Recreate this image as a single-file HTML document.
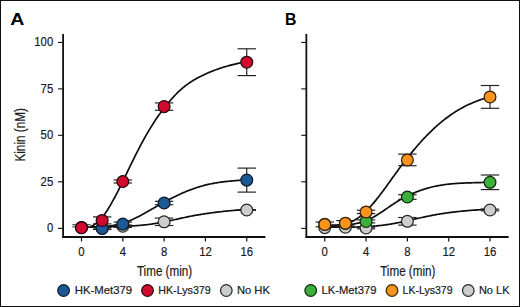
<!DOCTYPE html>
<html><head><meta charset="utf-8"><style>
html,body{margin:0;padding:0;background:#fff;}
svg{display:block;}
text{font-family:"Liberation Sans",sans-serif;fill:#1a1a1a;stroke:#1a1a1a;stroke-width:0.2px;}
.tk{font-size:12.6px;}
.ttl{font-size:14.2px;}
.lg{font-size:11.3px;}
.pl{font-size:17px;font-weight:bold;fill:#000;stroke:none;}
</style></head><body>
<svg width="520" height="307" viewBox="0 0 520 307">
<rect x="0" y="0" width="520" height="307" fill="#fff"/>
<rect x="0.5" y="0.5" width="519" height="306" fill="none" stroke="#111" stroke-width="1"/>
<text transform="translate(10.3,25.1) scale(1.15,1)" class="pl">A</text>
<text transform="translate(285.0,25.2) scale(0.93,1)" class="pl">B</text>
<text transform="translate(25.1,161.6) rotate(-90)" class="ttl" textLength="53.6" lengthAdjust="spacingAndGlyphs">Kinin (nM)</text>
<line x1="63.1" y1="33.9" x2="63.1" y2="237.9" stroke="#111" stroke-width="1.8"/>
<line x1="62.2" y1="237.0" x2="265.4" y2="237.0" stroke="#111" stroke-width="1.8"/>
<line x1="58.0" y1="228.40" x2="63.1" y2="228.40" stroke="#111" stroke-width="1.1"/>
<text transform="translate(53.2,232.35) scale(0.9,1)" text-anchor="end" class="tk">0</text>
<line x1="58.0" y1="181.80" x2="63.1" y2="181.80" stroke="#111" stroke-width="1.1"/>
<text transform="translate(53.2,185.75) scale(0.9,1)" text-anchor="end" class="tk">25</text>
<line x1="58.0" y1="135.30" x2="63.1" y2="135.30" stroke="#111" stroke-width="1.1"/>
<text transform="translate(53.2,139.25) scale(0.9,1)" text-anchor="end" class="tk">50</text>
<line x1="58.0" y1="88.90" x2="63.1" y2="88.90" stroke="#111" stroke-width="1.1"/>
<text transform="translate(53.2,92.85) scale(0.9,1)" text-anchor="end" class="tk">75</text>
<line x1="58.0" y1="42.45" x2="63.1" y2="42.45" stroke="#111" stroke-width="1.1"/>
<text transform="translate(53.2,46.40) scale(0.9,1)" text-anchor="end" class="tk">100</text>
<line x1="81.50" y1="237" x2="81.50" y2="241.5" stroke="#111" stroke-width="1.2"/>
<text transform="translate(81.50,256.4) scale(0.9,1)" text-anchor="middle" class="tk">0</text>
<line x1="122.81" y1="237" x2="122.81" y2="241.5" stroke="#111" stroke-width="1.2"/>
<text transform="translate(122.81,256.4) scale(0.9,1)" text-anchor="middle" class="tk">4</text>
<line x1="164.12" y1="237" x2="164.12" y2="241.5" stroke="#111" stroke-width="1.2"/>
<text transform="translate(164.12,256.4) scale(0.9,1)" text-anchor="middle" class="tk">8</text>
<line x1="205.44" y1="237" x2="205.44" y2="241.5" stroke="#111" stroke-width="1.2"/>
<text transform="translate(205.44,256.4) scale(0.9,1)" text-anchor="middle" class="tk">12</text>
<line x1="246.75" y1="237" x2="246.75" y2="241.5" stroke="#111" stroke-width="1.2"/>
<text transform="translate(246.75,256.4) scale(0.9,1)" text-anchor="middle" class="tk">16</text>
<text x="136.9" y="276.2" class="ttl" textLength="55.3" lengthAdjust="spacingAndGlyphs">Time (min)</text>
<line x1="306.35" y1="33.9" x2="306.35" y2="237.9" stroke="#111" stroke-width="1.8"/>
<line x1="305.45000000000005" y1="237.0" x2="508.65" y2="237.0" stroke="#111" stroke-width="1.8"/>
<line x1="301.25" y1="228.40" x2="306.35" y2="228.40" stroke="#111" stroke-width="1.1"/>
<line x1="301.25" y1="181.80" x2="306.35" y2="181.80" stroke="#111" stroke-width="1.1"/>
<line x1="301.25" y1="135.30" x2="306.35" y2="135.30" stroke="#111" stroke-width="1.1"/>
<line x1="301.25" y1="88.90" x2="306.35" y2="88.90" stroke="#111" stroke-width="1.1"/>
<line x1="301.25" y1="42.45" x2="306.35" y2="42.45" stroke="#111" stroke-width="1.1"/>
<line x1="324.75" y1="237" x2="324.75" y2="241.5" stroke="#111" stroke-width="1.2"/>
<text transform="translate(324.75,256.4) scale(0.9,1)" text-anchor="middle" class="tk">0</text>
<line x1="366.06" y1="237" x2="366.06" y2="241.5" stroke="#111" stroke-width="1.2"/>
<text transform="translate(366.06,256.4) scale(0.9,1)" text-anchor="middle" class="tk">4</text>
<line x1="407.37" y1="237" x2="407.37" y2="241.5" stroke="#111" stroke-width="1.2"/>
<text transform="translate(407.37,256.4) scale(0.9,1)" text-anchor="middle" class="tk">8</text>
<line x1="448.69" y1="237" x2="448.69" y2="241.5" stroke="#111" stroke-width="1.2"/>
<text transform="translate(448.69,256.4) scale(0.9,1)" text-anchor="middle" class="tk">12</text>
<line x1="490.00" y1="237" x2="490.00" y2="241.5" stroke="#111" stroke-width="1.2"/>
<text transform="translate(490.00,256.4) scale(0.9,1)" text-anchor="middle" class="tk">16</text>
<text x="380.15" y="276.2" class="ttl" textLength="55.3" lengthAdjust="spacingAndGlyphs">Time (min)</text>
<polyline points="81.40,226.80 82.43,226.80 83.46,226.80 84.49,226.80 85.52,226.80 86.56,226.80 87.59,226.80 88.62,226.80 89.65,226.80 90.68,226.80 91.71,226.79 92.74,226.79 93.77,226.79 94.80,226.79 95.83,226.78 96.87,226.78 97.90,226.77 98.93,226.77 99.96,226.76 100.99,226.75 102.02,226.74 103.05,226.73 104.08,226.72 105.11,226.70 106.14,226.69 107.18,226.67 108.21,226.65 109.24,226.63 110.27,226.61 111.30,226.58 112.33,226.55 113.36,226.52 114.39,226.49 115.42,226.46 116.45,226.42 117.49,226.41 118.52,226.38 119.55,226.36 120.58,226.34 121.61,226.31 122.64,226.28 123.67,226.25 124.70,226.22 125.73,226.18 126.76,226.15 127.80,226.10 128.83,226.06 129.86,226.01 130.89,225.96 131.92,225.91 132.95,225.85 133.98,225.79 135.01,225.73 136.04,225.66 137.07,225.59 138.11,225.51 139.14,225.43 140.17,225.34 141.20,225.25 142.23,225.16 143.26,225.06 144.29,224.95 145.32,224.84 146.35,224.73 147.38,224.61 148.42,224.48 149.45,224.35 150.48,224.22 151.51,224.07 152.54,223.93 153.57,223.77 154.60,223.61 155.63,223.45 156.66,223.28 157.69,223.11 158.73,222.93 159.76,222.74 160.79,222.55 161.82,222.36 162.85,222.16 163.88,221.95 164.91,221.75 165.94,221.54 166.97,221.32 168.00,221.10 169.04,220.88 170.07,220.66 171.10,220.44 172.13,220.21 173.16,219.99 174.19,219.76 175.22,219.53 176.25,219.30 177.28,219.07 178.31,218.85 179.35,218.62 180.38,218.39 181.41,218.17 182.44,217.95 183.47,217.73 184.50,217.51 185.53,217.29 186.56,217.08 187.59,216.86 188.62,216.65 189.66,216.45 190.69,216.25 191.72,216.04 192.75,215.85 193.78,215.65 194.81,215.46 195.84,215.28 196.87,215.09 197.90,214.91 198.93,214.74 199.97,214.56 201.00,214.39 202.03,214.22 203.06,214.06 204.09,213.90 205.12,213.74 206.15,213.59 207.18,213.44 208.21,213.29 209.24,213.15 210.28,213.00 211.31,212.86 212.34,212.73 213.37,212.59 214.40,212.46 215.43,212.33 216.46,212.20 217.49,212.08 218.52,211.96 219.55,211.84 220.59,211.72 221.62,211.61 222.65,211.49 223.68,211.38 224.71,211.27 225.74,211.17 226.77,211.06 227.80,210.96 228.83,210.86 229.86,210.76 230.90,210.67 231.93,210.57 232.96,210.48 233.99,210.39 235.02,210.31 236.05,210.22 237.08,210.14 238.11,210.06 239.14,209.98 240.17,209.90 241.21,209.83 242.24,209.76 243.27,209.68 244.30,209.62 245.33,209.55 246.36,209.48" fill="none" stroke="#0d0d0d" stroke-width="1.7" stroke-linejoin="round"/>
<polyline points="81.40,227.12 82.43,227.12 83.46,227.12 84.49,227.12 85.52,227.12 86.56,227.12 87.59,227.12 88.62,227.11 89.65,227.11 90.68,227.10 91.71,227.09 92.74,227.08 93.77,227.07 94.80,227.05 95.83,227.03 96.87,227.00 97.90,226.97 98.93,226.94 99.96,226.89 100.99,226.85 102.02,226.79 103.05,226.73 104.08,226.65 105.11,226.57 106.14,226.48 107.18,226.38 108.21,226.26 109.24,226.14 110.27,226.00 111.30,225.85 112.33,225.68 113.36,225.50 114.39,225.31 115.42,225.10 116.45,224.87 117.49,224.64 118.52,224.39 119.55,224.13 120.58,223.85 121.61,223.56 122.64,223.25 123.67,222.92 124.70,222.58 125.73,222.22 126.76,221.85 127.80,221.46 128.83,221.05 129.86,220.63 130.89,220.20 131.92,219.75 132.95,219.28 133.98,218.81 135.01,218.32 136.04,217.81 137.07,217.30 138.11,216.77 139.14,216.24 140.17,215.70 141.20,215.14 142.23,214.58 143.26,214.01 144.29,213.44 145.32,212.86 146.35,212.28 147.38,211.69 148.42,211.10 149.45,210.51 150.48,209.92 151.51,209.33 152.54,208.73 153.57,208.14 154.60,207.55 155.63,206.96 156.66,206.37 157.69,205.78 158.73,205.20 159.76,204.62 160.79,204.04 161.82,203.47 162.85,202.90 163.88,202.33 164.91,201.77 165.94,201.21 166.97,200.66 168.00,200.11 169.04,199.56 170.07,199.03 171.10,198.49 172.13,197.97 173.16,197.45 174.19,196.93 175.22,196.42 176.25,195.92 177.28,195.43 178.31,194.94 179.35,194.46 180.38,193.99 181.41,193.53 182.44,193.07 183.47,192.63 184.50,192.19 185.53,191.75 186.56,191.33 187.59,190.91 188.62,190.51 189.66,190.11 190.69,189.72 191.72,189.34 192.75,188.96 193.78,188.60 194.81,188.24 195.84,187.89 196.87,187.56 197.90,187.23 198.93,186.90 199.97,186.59 201.00,186.29 202.03,185.99 203.06,185.71 204.09,185.43 205.12,185.17 206.15,184.91 207.18,184.66 208.21,184.42 209.24,184.19 210.28,183.97 211.31,183.75 212.34,183.55 213.37,183.35 214.40,183.17 215.43,182.99 216.46,182.82 217.49,182.65 218.52,182.50 219.55,182.35 220.59,182.20 221.62,182.07 222.65,181.93 223.68,181.81 224.71,181.69 225.74,181.57 226.77,181.45 227.80,181.35 228.83,181.24 229.86,181.14 230.90,181.04 231.93,180.94 232.96,180.85 233.99,180.75 235.02,180.66 236.05,180.58 237.08,180.49 238.11,180.41 239.14,180.33 240.17,180.25 241.21,180.17 242.24,180.09 243.27,180.01 244.30,179.94 245.33,179.87 246.36,179.79" fill="none" stroke="#0d0d0d" stroke-width="1.7" stroke-linejoin="round"/>
<polyline points="81.40,227.93 82.43,227.92 83.46,227.90 84.49,227.83 85.52,227.74 86.56,227.59 87.59,227.40 88.62,227.15 89.65,226.84 90.68,226.47 91.71,226.03 92.74,225.52 93.77,224.94 94.80,224.29 95.83,223.56 96.87,222.76 97.90,221.87 98.93,220.91 99.96,219.87 100.99,218.75 102.02,217.55 103.05,216.28 104.08,214.93 105.11,213.50 106.14,212.00 107.18,210.44 108.21,208.81 109.24,207.11 110.27,205.36 111.30,203.55 112.33,201.70 113.36,199.86 114.39,197.97 115.42,196.04 116.45,194.08 117.49,192.08 118.52,190.05 119.55,187.99 120.58,185.91 121.61,183.81 122.64,181.69 123.67,179.56 124.70,177.42 125.73,175.28 126.76,173.13 127.80,170.99 128.83,168.84 129.86,166.71 130.89,164.58 131.92,162.46 132.95,160.35 133.98,158.26 135.01,156.18 136.04,154.13 137.07,152.09 138.11,150.08 139.14,148.09 140.17,146.12 141.20,144.18 142.23,142.26 143.26,140.37 144.29,138.50 145.32,136.67 146.35,134.86 147.38,133.08 148.42,131.32 149.45,129.60 150.48,127.90 151.51,126.23 152.54,124.59 153.57,122.98 154.60,121.39 155.63,119.84 156.66,118.30 157.69,116.80 158.73,115.32 159.76,113.87 160.79,112.44 161.82,111.04 162.85,109.66 163.88,108.31 164.91,106.98 165.94,105.67 166.97,104.39 168.00,103.14 169.04,101.90 170.07,100.69 171.10,99.51 172.13,98.35 173.16,97.22 174.19,96.11 175.22,95.03 176.25,93.97 177.28,92.94 178.31,91.94 179.35,90.97 180.38,90.02 181.41,89.10 182.44,88.21 183.47,87.34 184.50,86.50 185.53,85.69 186.56,84.91 187.59,84.15 188.62,83.42 189.66,82.71 190.69,82.02 191.72,81.36 192.75,80.71 193.78,80.09 194.81,79.49 195.84,78.90 196.87,78.33 197.90,77.77 198.93,77.23 199.97,76.70 201.00,76.18 202.03,75.67 203.06,75.18 204.09,74.69 205.12,74.21 206.15,73.74 207.18,73.28 208.21,72.83 209.24,72.39 210.28,71.96 211.31,71.53 212.34,71.12 213.37,70.72 214.40,70.32 215.43,69.93 216.46,69.56 217.49,69.19 218.52,68.83 219.55,68.48 220.59,68.14 221.62,67.80 222.65,67.48 223.68,67.16 224.71,66.85 225.74,66.55 226.77,66.26 227.80,65.97 228.83,65.69 229.86,65.42 230.90,65.15 231.93,64.89 232.96,64.63 233.99,64.38 235.02,64.14 236.05,63.90 237.08,63.66 238.11,63.43 239.14,63.20 240.17,62.98 241.21,62.76 242.24,62.54 243.27,62.33 244.30,62.12 245.33,61.92 246.36,61.72" fill="none" stroke="#0d0d0d" stroke-width="1.7" stroke-linejoin="round"/>
<g stroke="#4a4a4a" stroke-width="1.2"><line x1="72.30" y1="224.7" x2="90.70" y2="224.7"/><line x1="72.30" y1="226.9" x2="90.70" y2="226.9"/></g>
<circle cx="81.50" cy="227.70" r="5.9" fill="#cdcdcd" stroke="#2a2a2a" stroke-width="1.25"/>
<g stroke="#1e1e1e" stroke-width="1.15"><line x1="102.16" y1="227.50" x2="102.16" y2="229.10"/><line x1="92.96" y1="227.50" x2="111.36" y2="227.50"/><line x1="92.96" y1="229.10" x2="111.36" y2="229.10"/></g>
<circle cx="102.16" cy="228.30" r="5.9" fill="#cdcdcd" stroke="#2a2a2a" stroke-width="1.25"/>
<g stroke="#1e1e1e" stroke-width="1.15"><line x1="122.81" y1="225.00" x2="122.81" y2="227.40"/><line x1="113.61" y1="225.00" x2="132.01" y2="225.00"/><line x1="113.61" y1="227.40" x2="132.01" y2="227.40"/></g>
<circle cx="122.81" cy="226.20" r="5.9" fill="#cdcdcd" stroke="#2a2a2a" stroke-width="1.25"/>
<g stroke="#1e1e1e" stroke-width="1.15"><line x1="164.12" y1="218.10" x2="164.12" y2="225.50"/><line x1="154.92" y1="218.10" x2="173.32" y2="218.10"/><line x1="154.92" y1="225.50" x2="173.32" y2="225.50"/></g>
<circle cx="164.12" cy="221.80" r="5.9" fill="#cdcdcd" stroke="#2a2a2a" stroke-width="1.25"/>
<g stroke="#1e1e1e" stroke-width="1.15"><line x1="246.75" y1="209.65" x2="246.75" y2="210.35"/><line x1="237.55" y1="209.65" x2="255.95" y2="209.65"/><line x1="237.55" y1="210.35" x2="255.95" y2="210.35"/></g>
<circle cx="246.75" cy="210.00" r="5.9" fill="#cdcdcd" stroke="#2a2a2a" stroke-width="1.25"/>
<circle cx="81.50" cy="227.50" r="5.9" fill="#1b5995" stroke="#0a1a2c" stroke-width="1.25"/>
<g stroke="#1e1e1e" stroke-width="1.15"><line x1="102.16" y1="227.40" x2="102.16" y2="229.40"/><line x1="92.96" y1="227.40" x2="111.36" y2="227.40"/><line x1="92.96" y1="229.40" x2="111.36" y2="229.40"/></g>
<circle cx="102.16" cy="228.40" r="5.9" fill="#1b5995" stroke="#0a1a2c" stroke-width="1.25"/>
<g stroke="#1e1e1e" stroke-width="1.15"><line x1="122.81" y1="222.10" x2="122.81" y2="226.10"/><line x1="113.61" y1="222.10" x2="132.01" y2="222.10"/><line x1="113.61" y1="226.10" x2="132.01" y2="226.10"/></g>
<circle cx="122.81" cy="224.10" r="5.9" fill="#1b5995" stroke="#0a1a2c" stroke-width="1.25"/>
<g stroke="#1e1e1e" stroke-width="1.15"><line x1="164.12" y1="201.30" x2="164.12" y2="204.70"/><line x1="154.92" y1="201.30" x2="173.32" y2="201.30"/><line x1="154.92" y1="204.70" x2="173.32" y2="204.70"/></g>
<circle cx="164.12" cy="203.00" r="5.9" fill="#1b5995" stroke="#0a1a2c" stroke-width="1.25"/>
<g stroke="#1e1e1e" stroke-width="1.15"><line x1="246.75" y1="168.10" x2="246.75" y2="192.10"/><line x1="237.55" y1="168.10" x2="255.95" y2="168.10"/><line x1="237.55" y1="192.10" x2="255.95" y2="192.10"/></g>
<circle cx="246.75" cy="180.10" r="5.9" fill="#1b5995" stroke="#0a1a2c" stroke-width="1.25"/>
<circle cx="81.50" cy="227.70" r="5.9" fill="#d20a2e" stroke="#2a0810" stroke-width="1.25"/>
<g stroke="#1e1e1e" stroke-width="1.15"><line x1="102.16" y1="216.90" x2="102.16" y2="223.90"/><line x1="92.96" y1="216.90" x2="111.36" y2="216.90"/><line x1="92.96" y1="223.90" x2="111.36" y2="223.90"/></g>
<circle cx="102.16" cy="220.40" r="5.9" fill="#d20a2e" stroke="#2a0810" stroke-width="1.25"/>
<g stroke="#1e1e1e" stroke-width="1.15"><line x1="122.81" y1="180.00" x2="122.81" y2="183.00"/><line x1="113.61" y1="180.00" x2="132.01" y2="180.00"/><line x1="113.61" y1="183.00" x2="132.01" y2="183.00"/></g>
<circle cx="122.81" cy="181.50" r="5.9" fill="#d20a2e" stroke="#2a0810" stroke-width="1.25"/>
<g stroke="#1e1e1e" stroke-width="1.15"><line x1="164.12" y1="102.90" x2="164.12" y2="110.30"/><line x1="154.92" y1="102.90" x2="173.32" y2="102.90"/><line x1="154.92" y1="110.30" x2="173.32" y2="110.30"/></g>
<circle cx="164.12" cy="106.60" r="5.9" fill="#d20a2e" stroke="#2a0810" stroke-width="1.25"/>
<g stroke="#1e1e1e" stroke-width="1.15"><line x1="246.75" y1="48.80" x2="246.75" y2="75.60"/><line x1="237.55" y1="48.80" x2="255.95" y2="48.80"/><line x1="237.55" y1="75.60" x2="255.95" y2="75.60"/></g>
<circle cx="246.75" cy="62.20" r="5.9" fill="#d20a2e" stroke="#2a0810" stroke-width="1.25"/>
<polyline points="324.80,227.14 325.83,227.14 326.86,227.14 327.89,227.14 328.92,227.14 329.95,227.14 330.99,227.14 332.02,227.14 333.05,227.14 334.08,227.14 335.11,227.14 336.14,227.14 337.17,227.14 338.20,227.14 339.23,227.14 340.26,227.14 341.30,227.14 342.33,227.13 343.36,227.13 344.39,227.13 345.42,227.12 346.45,227.12 347.48,227.11 348.51,227.10 349.54,227.10 350.57,227.09 351.61,227.07 352.64,227.06 353.67,227.05 354.70,227.03 355.73,227.01 356.76,226.99 357.79,226.96 358.82,226.94 359.85,226.91 360.88,226.87 361.92,226.84 362.95,226.80 363.98,226.75 365.01,226.71 366.04,226.66 367.07,226.60 368.10,226.54 369.13,226.48 370.16,226.42 371.19,226.35 372.23,226.27 373.26,226.19 374.29,226.11 375.32,226.02 376.35,225.93 377.38,225.83 378.41,225.72 379.44,225.61 380.47,225.50 381.50,225.38 382.54,225.25 383.57,225.12 384.60,224.99 385.63,224.84 386.66,224.70 387.69,224.54 388.72,224.39 389.75,224.22 390.78,224.06 391.81,223.88 392.85,223.70 393.88,223.52 394.91,223.33 395.94,223.14 396.97,222.94 398.00,222.74 399.03,222.54 400.06,222.33 401.09,222.12 402.12,221.90 403.16,221.68 404.19,221.46 405.22,221.23 406.25,221.01 407.28,220.78 408.31,220.55 409.34,220.32 410.37,220.08 411.40,219.85 412.44,219.62 413.47,219.38 414.50,219.15 415.53,218.91 416.56,218.68 417.59,218.44 418.62,218.21 419.65,217.98 420.68,217.75 421.71,217.52 422.75,217.30 423.78,217.08 424.81,216.85 425.84,216.64 426.87,216.42 427.90,216.21 428.93,216.00 429.96,215.80 430.99,215.59 432.02,215.40 433.06,215.20 434.09,215.01 435.12,214.82 436.15,214.64 437.18,214.46 438.21,214.28 439.24,214.11 440.27,213.94 441.30,213.77 442.33,213.61 443.37,213.45 444.40,213.30 445.43,213.15 446.46,213.00 447.49,212.85 448.52,212.71 449.55,212.58 450.58,212.44 451.61,212.31 452.64,212.18 453.68,212.06 454.71,211.94 455.74,211.82 456.77,211.70 457.80,211.59 458.83,211.48 459.86,211.37 460.89,211.26 461.92,211.16 462.95,211.06 463.99,210.96 465.02,210.87 466.05,210.78 467.08,210.69 468.11,210.60 469.14,210.51 470.17,210.43 471.20,210.35 472.23,210.27 473.26,210.19 474.30,210.12 475.33,210.04 476.36,209.97 477.39,209.90 478.42,209.84 479.45,209.77 480.48,209.71 481.51,209.64 482.54,209.58 483.57,209.53 484.61,209.47 485.64,209.41 486.67,209.36 487.70,209.31 488.73,209.26 489.76,209.21" fill="none" stroke="#0d0d0d" stroke-width="1.7" stroke-linejoin="round"/>
<polyline points="324.80,225.00 325.83,225.00 326.86,225.00 327.89,225.00 328.92,225.00 329.95,225.00 330.99,225.00 332.02,225.00 333.05,225.00 334.08,225.00 335.11,224.99 336.14,224.99 337.17,224.98 338.20,224.97 339.23,224.95 340.26,224.94 341.30,224.91 342.33,224.89 343.36,224.85 344.39,224.81 345.42,224.77 346.45,224.71 347.48,224.65 348.51,224.57 349.54,224.48 350.57,224.38 351.61,224.27 352.64,224.14 353.67,224.00 354.70,223.84 355.73,223.66 356.76,223.47 357.79,223.25 358.82,223.01 359.85,222.75 360.88,222.46 361.92,222.16 362.95,221.83 363.98,221.47 365.01,221.10 366.04,220.70 367.07,220.27 368.10,219.82 369.13,219.35 370.16,218.86 371.19,218.34 372.23,217.80 373.26,217.24 374.29,216.66 375.32,216.06 376.35,215.44 377.38,214.80 378.41,214.15 379.44,213.49 380.47,212.81 381.50,212.12 382.54,211.43 383.57,210.72 384.60,210.02 385.63,209.31 386.66,208.59 387.69,207.88 388.72,207.17 389.75,206.46 390.78,205.76 391.81,205.06 392.85,204.37 393.88,203.69 394.91,203.02 395.94,202.36 396.97,201.72 398.00,201.08 399.03,200.46 400.06,199.85 401.09,199.25 402.12,198.67 403.16,198.10 404.19,197.55 405.22,197.01 406.25,196.48 407.28,195.97 408.31,195.47 409.34,194.98 410.37,194.50 411.40,194.04 412.44,193.58 413.47,193.14 414.50,192.71 415.53,192.29 416.56,191.89 417.59,191.49 418.62,191.10 419.65,190.72 420.68,190.36 421.71,190.00 422.75,189.66 423.78,189.32 424.81,189.00 425.84,188.68 426.87,188.38 427.90,188.08 428.93,187.80 429.96,187.52 430.99,187.26 432.02,187.00 433.06,186.75 434.09,186.52 435.12,186.29 436.15,186.08 437.18,185.87 438.21,185.67 439.24,185.48 440.27,185.30 441.30,185.13 442.33,184.97 443.37,184.81 444.40,184.67 445.43,184.53 446.46,184.40 447.49,184.27 448.52,184.16 449.55,184.05 450.58,183.94 451.61,183.85 452.64,183.76 453.68,183.67 454.71,183.59 455.74,183.51 456.77,183.44 457.80,183.38 458.83,183.32 459.86,183.26 460.89,183.20 461.92,183.15 462.95,183.10 463.99,183.05 465.02,183.01 466.05,182.97 467.08,182.93 468.11,182.89 469.14,182.86 470.17,182.82 471.20,182.79 472.23,182.76 473.26,182.73 474.30,182.70 475.33,182.67 476.36,182.64 477.39,182.61 478.42,182.59 479.45,182.56 480.48,182.54 481.51,182.51 482.54,182.49 483.57,182.46 484.61,182.44 485.64,182.41 486.67,182.39 487.70,182.37 488.73,182.35 489.76,182.32" fill="none" stroke="#0d0d0d" stroke-width="1.7" stroke-linejoin="round"/>
<polyline points="324.80,226.14 325.83,226.14 326.86,226.14 327.89,226.14 328.92,226.13 329.95,226.11 330.99,226.08 332.02,226.04 333.05,226.00 334.08,225.93 335.11,225.86 336.14,225.77 337.17,225.66 338.20,225.53 339.23,225.38 340.26,225.22 341.30,225.03 342.33,224.81 343.36,224.58 344.39,224.32 345.42,224.03 346.45,223.71 347.48,223.37 348.51,223.00 349.54,222.60 350.57,222.16 351.61,221.70 352.64,221.20 353.67,220.67 354.70,220.10 355.73,219.48 356.76,218.80 357.79,218.09 358.82,217.35 359.85,216.56 360.88,215.75 361.92,214.90 362.95,214.01 363.98,213.09 365.01,212.13 366.04,211.15 367.07,210.13 368.10,209.07 369.13,207.99 370.16,206.88 371.19,205.73 372.23,204.56 373.26,203.37 374.29,202.14 375.32,200.90 376.35,199.62 377.38,198.33 378.41,197.02 379.44,195.69 380.47,194.34 381.50,192.97 382.54,191.59 383.57,190.19 384.60,188.79 385.63,187.38 386.66,185.95 387.69,184.52 388.72,183.09 389.75,181.65 390.78,180.21 391.81,178.78 392.85,177.34 393.88,175.90 394.91,174.47 395.94,173.05 396.97,171.63 398.00,170.22 399.03,168.82 400.06,167.43 401.09,166.05 402.12,164.68 403.16,163.32 404.19,161.97 405.22,160.63 406.25,159.31 407.28,158.00 408.31,156.70 409.34,155.41 410.37,154.13 411.40,152.87 412.44,151.62 413.47,150.38 414.50,149.15 415.53,147.94 416.56,146.73 417.59,145.54 418.62,144.36 419.65,143.20 420.68,142.05 421.71,140.91 422.75,139.78 423.78,138.67 424.81,137.57 425.84,136.49 426.87,135.42 427.90,134.37 428.93,133.33 429.96,132.30 430.99,131.29 432.02,130.30 433.06,129.32 434.09,128.36 435.12,127.41 436.15,126.48 437.18,125.56 438.21,124.66 439.24,123.77 440.27,122.90 441.30,122.05 442.33,121.21 443.37,120.38 444.40,119.57 445.43,118.77 446.46,117.99 447.49,117.22 448.52,116.47 449.55,115.73 450.58,115.00 451.61,114.29 452.64,113.60 453.68,112.91 454.71,112.24 455.74,111.59 456.77,110.95 457.80,110.32 458.83,109.71 459.86,109.11 460.89,108.52 461.92,107.95 462.95,107.39 463.99,106.85 465.02,106.32 466.05,105.80 467.08,105.30 468.11,104.80 469.14,104.33 470.17,103.86 471.20,103.41 472.23,102.96 473.26,102.53 474.30,102.11 475.33,101.70 476.36,101.30 477.39,100.91 478.42,100.52 479.45,100.15 480.48,99.78 481.51,99.42 482.54,99.07 483.57,98.73 484.61,98.39 485.64,98.06 486.67,97.74 487.70,97.42 488.73,97.11 489.76,96.80" fill="none" stroke="#0d0d0d" stroke-width="1.7" stroke-linejoin="round"/>
<circle cx="324.75" cy="227.60" r="5.9" fill="#cdcdcd" stroke="#2a2a2a" stroke-width="1.25"/>
<circle cx="345.41" cy="227.20" r="5.9" fill="#cdcdcd" stroke="#2a2a2a" stroke-width="1.25"/>
<g stroke="#1e1e1e" stroke-width="1.15"><line x1="366.06" y1="227.20" x2="366.06" y2="228.80"/><line x1="356.86" y1="227.20" x2="375.26" y2="227.20"/><line x1="356.86" y1="228.80" x2="375.26" y2="228.80"/></g>
<circle cx="366.06" cy="228.00" r="5.9" fill="#cdcdcd" stroke="#2a2a2a" stroke-width="1.25"/>
<g stroke="#1e1e1e" stroke-width="1.15"><line x1="407.37" y1="217.50" x2="407.37" y2="225.10"/><line x1="398.17" y1="217.50" x2="416.57" y2="217.50"/><line x1="398.17" y1="225.10" x2="416.57" y2="225.10"/></g>
<circle cx="407.37" cy="221.30" r="5.9" fill="#cdcdcd" stroke="#2a2a2a" stroke-width="1.25"/>
<g stroke="#1e1e1e" stroke-width="1.15"><line x1="490.00" y1="209.15" x2="490.00" y2="210.85"/><line x1="480.80" y1="209.15" x2="499.20" y2="209.15"/><line x1="480.80" y1="210.85" x2="499.20" y2="210.85"/></g>
<circle cx="490.00" cy="210.00" r="5.9" fill="#cdcdcd" stroke="#2a2a2a" stroke-width="1.25"/>
<circle cx="324.75" cy="224.30" r="5.9" fill="#3cae3a" stroke="#0c2a0c" stroke-width="1.25"/>
<circle cx="345.41" cy="223.50" r="5.9" fill="#3cae3a" stroke="#0c2a0c" stroke-width="1.25"/>
<g stroke="#1e1e1e" stroke-width="1.15"><line x1="366.06" y1="219.90" x2="366.06" y2="222.90"/><line x1="356.86" y1="219.90" x2="375.26" y2="219.90"/><line x1="356.86" y1="222.90" x2="375.26" y2="222.90"/></g>
<circle cx="366.06" cy="221.40" r="5.9" fill="#3cae3a" stroke="#0c2a0c" stroke-width="1.25"/>
<g stroke="#1e1e1e" stroke-width="1.15"><line x1="407.37" y1="194.70" x2="407.37" y2="199.30"/><line x1="398.17" y1="194.70" x2="416.57" y2="194.70"/><line x1="398.17" y1="199.30" x2="416.57" y2="199.30"/></g>
<circle cx="407.37" cy="197.00" r="5.9" fill="#3cae3a" stroke="#0c2a0c" stroke-width="1.25"/>
<g stroke="#1e1e1e" stroke-width="1.15"><line x1="490.00" y1="175.00" x2="490.00" y2="189.60"/><line x1="480.80" y1="175.00" x2="499.20" y2="175.00"/><line x1="480.80" y1="189.60" x2="499.20" y2="189.60"/></g>
<circle cx="490.00" cy="182.30" r="5.9" fill="#3cae3a" stroke="#0c2a0c" stroke-width="1.25"/>
<g stroke="#1e1e1e" stroke-width="1.15"><line x1="324.75" y1="222.00" x2="324.75" y2="226.80"/><line x1="315.55" y1="222.00" x2="333.95" y2="222.00"/><line x1="315.55" y1="226.80" x2="333.95" y2="226.80"/></g>
<circle cx="324.75" cy="224.40" r="5.9" fill="#f7941d" stroke="#3a2008" stroke-width="1.25"/>
<g stroke="#1e1e1e" stroke-width="1.15"><line x1="345.41" y1="220.60" x2="345.41" y2="225.80"/><line x1="336.21" y1="220.60" x2="354.61" y2="220.60"/><line x1="336.21" y1="225.80" x2="354.61" y2="225.80"/></g>
<circle cx="345.41" cy="223.20" r="5.9" fill="#f7941d" stroke="#3a2008" stroke-width="1.25"/>
<g stroke="#1e1e1e" stroke-width="1.15"><line x1="366.06" y1="210.20" x2="366.06" y2="213.60"/><line x1="356.86" y1="210.20" x2="375.26" y2="210.20"/><line x1="356.86" y1="213.60" x2="375.26" y2="213.60"/></g>
<circle cx="366.06" cy="211.90" r="5.9" fill="#f7941d" stroke="#3a2008" stroke-width="1.25"/>
<g stroke="#1e1e1e" stroke-width="1.15"><line x1="407.37" y1="154.10" x2="407.37" y2="165.70"/><line x1="398.17" y1="154.10" x2="416.57" y2="154.10"/><line x1="398.17" y1="165.70" x2="416.57" y2="165.70"/></g>
<circle cx="407.37" cy="159.90" r="5.9" fill="#f7941d" stroke="#3a2008" stroke-width="1.25"/>
<g stroke="#1e1e1e" stroke-width="1.15"><line x1="490.00" y1="85.50" x2="490.00" y2="108.30"/><line x1="480.80" y1="85.50" x2="499.20" y2="85.50"/><line x1="480.80" y1="108.30" x2="499.20" y2="108.30"/></g>
<circle cx="490.00" cy="96.90" r="5.9" fill="#f7941d" stroke="#3a2008" stroke-width="1.25"/>
<circle cx="63.6" cy="290.5" r="5.8" fill="#1b5995" stroke="#0a1a2c" stroke-width="1.25"/>
<text x="74.7" y="294.2" class="lg" textLength="57.5" lengthAdjust="spacingAndGlyphs">HK-Met379</text>
<circle cx="147.5" cy="290.5" r="5.8" fill="#d20a2e" stroke="#2a0810" stroke-width="1.25"/>
<text x="158.2" y="294.2" class="lg" textLength="52.6" lengthAdjust="spacingAndGlyphs">HK-Lys379</text>
<circle cx="226.3" cy="290.5" r="5.8" fill="#cdcdcd" stroke="#2a2a2a" stroke-width="1.25"/>
<text x="236.9" y="294.2" class="lg" textLength="33.1" lengthAdjust="spacingAndGlyphs">No HK</text>
<circle cx="310.7" cy="290.5" r="5.8" fill="#3cae3a" stroke="#0c2a0c" stroke-width="1.25"/>
<text x="321.4" y="294.2" class="lg" textLength="55" lengthAdjust="spacingAndGlyphs">LK-Met379</text>
<circle cx="392.0" cy="290.5" r="5.8" fill="#f7941d" stroke="#3a2008" stroke-width="1.25"/>
<text x="402.6" y="294.2" class="lg" textLength="50" lengthAdjust="spacingAndGlyphs">LK-Lys379</text>
<circle cx="468.3" cy="290.5" r="5.8" fill="#cdcdcd" stroke="#2a2a2a" stroke-width="1.25"/>
<text x="478.9" y="294.2" class="lg" textLength="30.6" lengthAdjust="spacingAndGlyphs">No LK</text>
</svg>
</body></html>
